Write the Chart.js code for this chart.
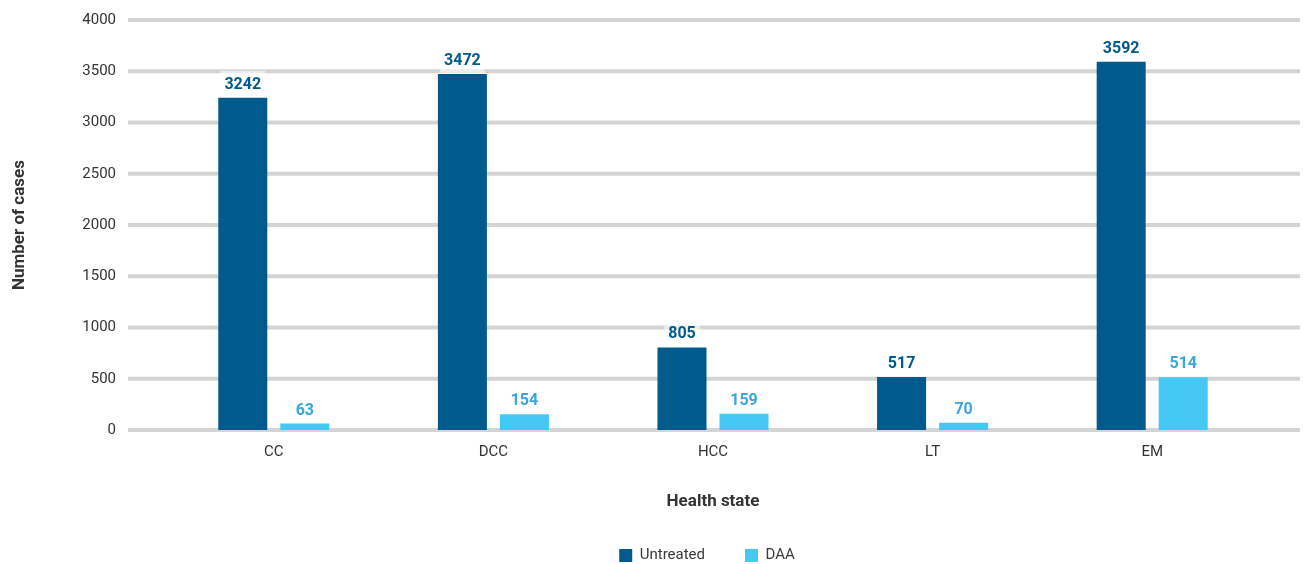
<!DOCTYPE html>
<html>
<head>
<meta charset="utf-8">
<script src="https://cdn.jsdelivr.net/npm/chart.js@4/dist/chart.umd.min.js"></script>
<style>
  html, body { margin: 0; padding: 0; background: #fff; }
</style>
</head>
<body>
<canvas id="myChart" width="1303" height="564"></canvas>
<script>
// data
const states = ['CC', 'DCC', 'HCC', 'LT', 'EM'];
const untreated = [3242, 3472, 805, 517, 3592];
const daa = [63, 154, 159, 70, 514];
const yMax = 4000;
const yStep = 500;

const darkBlue = '#005a8c';
const lightBlue = '#46c8f5';
const lightLabel = '#3aa6dd';

// long grey gridlines that run past the plot area on both sides
const gridPlugin = {
  id: 'wideGrid',
  beforeDatasetsDraw(chart) {
    const ctx = chart.ctx;
    const y = chart.scales.y;
    const area = chart.chartArea;
    ctx.save();
    ctx.strokeStyle = '#d4d4d4';
    ctx.lineWidth = 4;
    y.ticks.forEach(t => {
      const py = y.getPixelForValue(t.value);
      ctx.beginPath();
      ctx.moveTo(area.left - 36, py);
      ctx.lineTo(area.right + 38, py);
      ctx.stroke();
    });
    ctx.restore();
  }
};

// value labels on top of each bar, with a faint white box behind
const labelPlugin = {
  id: 'barLabels',
  afterDatasetsDraw(chart) {
    const ctx = chart.ctx;
    ctx.save();
    ctx.font = 'bold 16px Roboto';
    ctx.textAlign = 'center';
    ctx.textBaseline = 'middle';
    chart.data.datasets.forEach((ds, i) => {
      chart.getDatasetMeta(i).data.forEach((bar, j) => {
        const txt = String(ds.data[j]);
        const cy = bar.y - 14;
        const w = ctx.measureText(txt).width + 8;
        ctx.fillStyle = 'rgba(255,255,255,0.55)';
        ctx.fillRect(bar.x - w / 2, cy - 13, w, 26);
        ctx.fillStyle = ds.labelColor;
        ctx.fillText(txt, bar.x, cy + 1);
      });
    });
    ctx.restore();
  }
};

// move the legend under the plot centre
const legendShift = {
  id: 'legendShift',
  afterLayout(chart) {
    const lg = chart.legend;
    lg.left += 76; lg.right += 76;
  }
};

const ctx1 = document.getElementById('myChart');
let chart1 = new Chart(ctx1, {
  type: 'bar',
  data: {
    labels: states,
    datasets: [{
      label: 'Untreated',
      data: untreated,
      backgroundColor: darkBlue,
      labelColor: darkBlue,
      categoryPercentage: 0.565,
      barPercentage: 0.79
    }, {
      label: 'DAA',
      data: daa,
      backgroundColor: lightBlue,
      labelColor: lightLabel,
      categoryPercentage: 0.565,
      barPercentage: 0.79
    }]
  },
  options: {
    responsive: false,
    animation: false,
    devicePixelRatio: 1,
    layout: { padding: { left: 0, right: 41, top: 20, bottom: 0 } },
    plugins: {
      legend: {
        position: 'bottom',
        maxHeight: 56,
        labels: {
          boxWidth: 13,
          boxHeight: 13,
          padding: 40,
          color: '#3a3a3a',
          font: { family: 'Roboto', size: 15 }
        }
      },
      tooltip: { enabled: false }
    },
    scales: {
      x: {
        grid: { display: false, drawTicks: false },
        border: { display: false },
        ticks: { color: '#333', padding: 13, font: { family: 'Roboto', size: 15 } },
        title: {
          display: true,
          text: 'Health state',
          color: '#333',
          font: { family: 'Roboto', size: 17, weight: 'bold' },
          padding: { top: 0, bottom: -4 }
        },
        afterFit(s) { s.height = 78; }
      },
      y: {
        min: 0,
        max: yMax,
        grid: { display: false, drawTicks: false },
        border: { display: false },
        ticks: {
          stepSize: yStep,
          color: '#333',
          padding: 48,
          font: { family: 'Roboto', size: 15 },
          callback: v => String(v)
        },
        title: {
          display: true,
          text: 'Number of cases',
          color: '#333',
          font: { family: 'Roboto', size: 17, weight: 'bold' },
          padding: { top: 10, bottom: 0 }
        },
        afterFit(s) {
          s.width = 164;
          s.paddingTop = 9;
          s.paddingBottom = 9;
        }
      }
    }
  },
  plugins: [gridPlugin, labelPlugin, legendShift]
});
</script>
</body>
</html>
